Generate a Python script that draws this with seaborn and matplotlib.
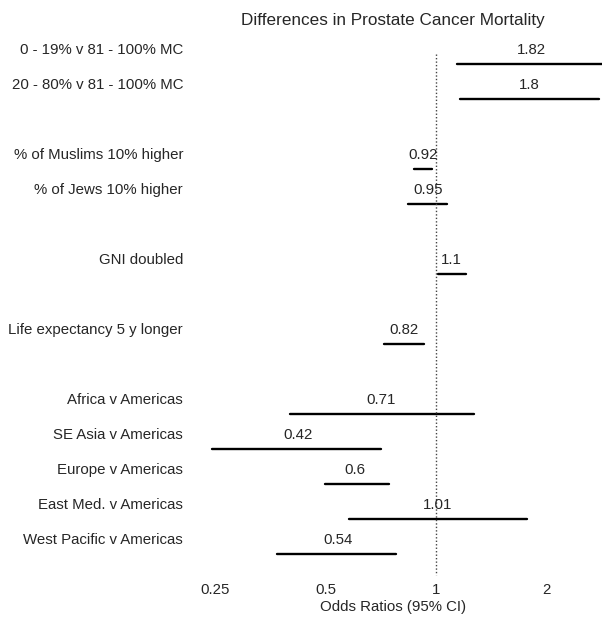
import pandas as pd
import matplotlib
matplotlib.use("Agg")
import matplotlib.pyplot as plt
import seaborn as sns

# Forest plot data (odds ratios with 95% CI)
labels = ['0 - 19% v 81 - 100% MC', '20 - 80% v 81 - 100% MC',
          '% of Muslims 10% higher', '% of Jews 10% higher',
          'GNI doubled', 'Life expectancy 5 y longer',
          'Africa v Americas', 'SE Asia v Americas', 'Europe v Americas',
          'East Med. v Americas', 'West Pacific v Americas']
rows = [0, 1, 3, 4, 6, 8, 10, 11, 12, 13, 14]
odds = [1.82, 1.8, 0.92, 0.95, 1.1, 0.82, 0.71, 0.42, 0.6, 1.01, 0.54]
lower = [1.14, 1.16, 0.87, 0.84, 1.01, 0.72, 0.40, 0.245, 0.50, 0.58, 0.37]
upper = [2.95, 2.78, 0.975, 1.07, 1.21, 0.93, 1.27, 0.71, 0.745, 1.77, 0.78]
odds_text = ['1.82', '1.8', '0.92', '0.95', '1.1', '0.82', '0.71', '0.42', '0.6', '1.01', '0.54']

W, H = 602, 619

# long format: one segment per row
seg = pd.DataFrame({
    'label': labels * 2,
    'row': rows * 2,
    'or': lower + upper,
})

sns.set_style('white')
plt.rcParams['font.family'] = ['Liberation Sans', 'DejaVu Sans']
fs = 10.8

fig = plt.figure(figsize=(W / 100, H / 100), dpi=100)
ax_left, ax_top, ax_bottom = 200, 40, 580
ax = fig.add_axes([ax_left / W, 1 - ax_bottom / H, 1 - ax_left / W, (ax_bottom - ax_top) / H])

sns.lineplot(data=seg, x='or', y='row', units='label', estimator=None, sort=False,
             color='black', linewidth=1.7, ax=ax, legend=False)

ax.set_xscale('log', base=2)
ax.set_xlim(0.2277, 2.833)
ax.set_ylim((580 - 64) / 35, (40 - 64) / 35)

ax.vlines(1, -0.3, 14.6, colors='#444444', linestyles=(0, (1, 1.5)), linewidth=1.0)

for lab, r, o, t in zip(labels, rows, odds, odds_text):
    ax.text(-0.042, r - 0.4, lab, transform=ax.get_yaxis_transform(),
            ha='right', va='center', fontsize=fs)
    ax.text(o, r - 0.4, t, ha='center', va='center', fontsize=fs)

ax.set_xticks([0.25, 0.5, 1, 2])
ax.set_xticklabels(['0.25', '0.5', '1', '2'], fontsize=fs)
ax.minorticks_off()
ax.tick_params(axis='x', length=0, pad=2)
ax.set_yticks([])
ax.set_xlabel('Odds Ratios (95% CI)', fontsize=fs)
ax.xaxis.set_label_coords((393 - ax_left) / (W - ax_left), -20 / (ax_bottom - ax_top))
ax.set_ylabel('')
for s in ax.spines.values():
    s.set_visible(False)

fig.text(393 / W, 1 - 20 / H, 'Differences in Prostate Cancer Mortality',
         ha='center', va='center', fontsize=12.3)

fig.savefig('out.png', dpi=100)
